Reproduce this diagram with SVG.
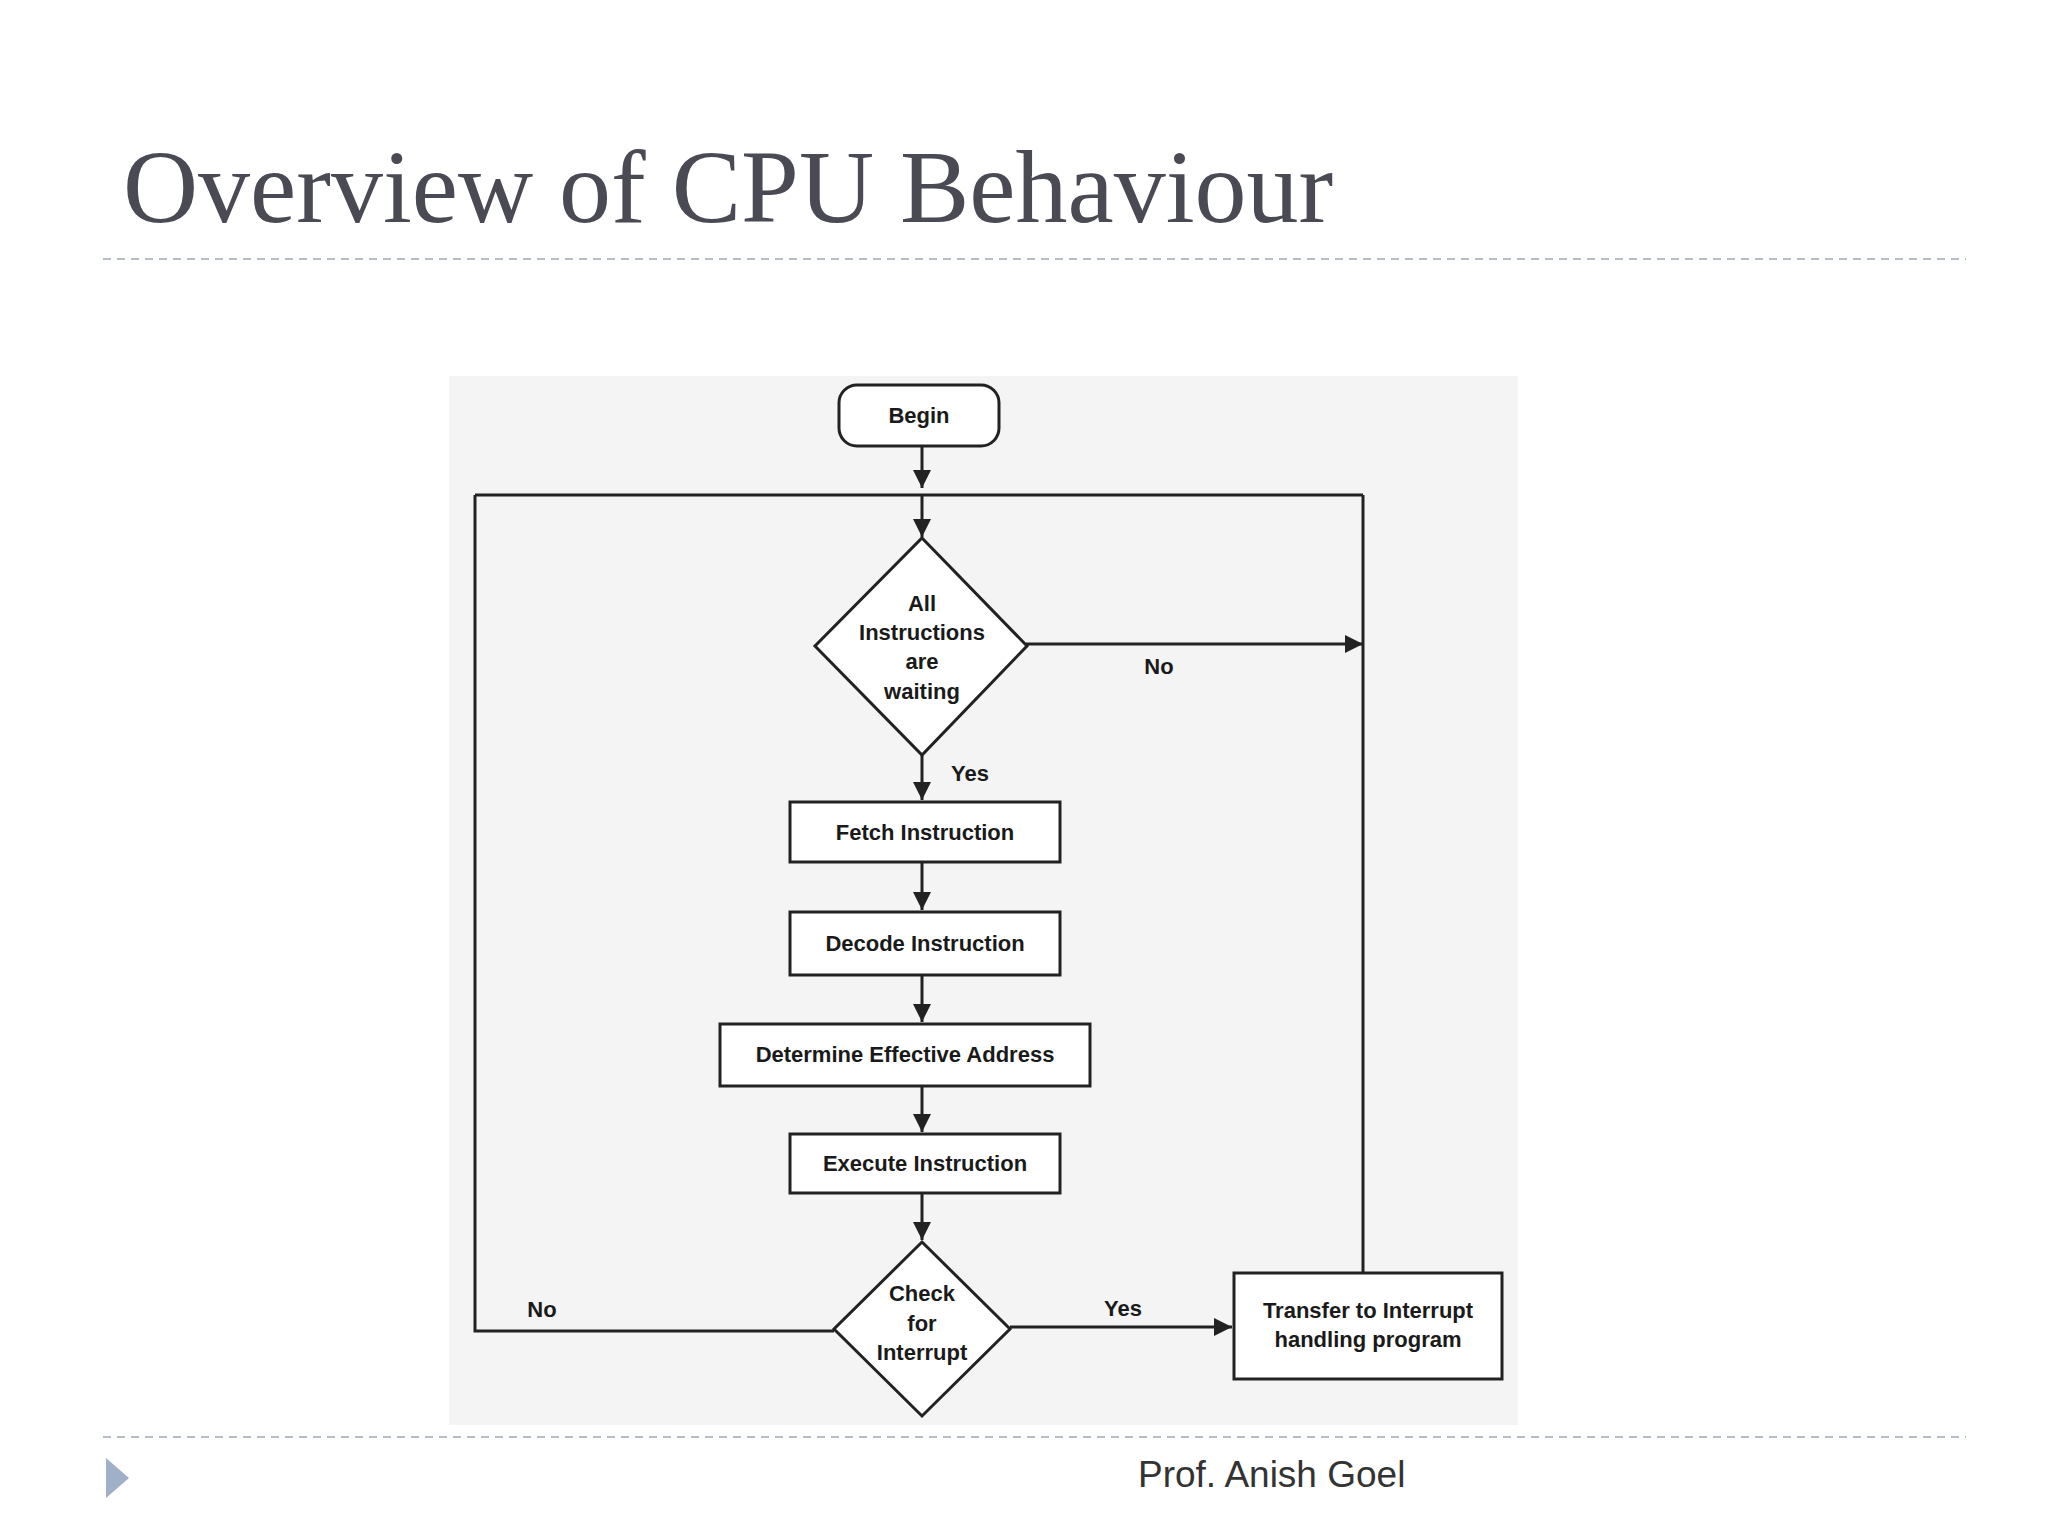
<svg xmlns="http://www.w3.org/2000/svg" width="2048" height="1536" viewBox="0 0 2048 1536">
<style>
.n{fill:#fff;stroke:#222;stroke-width:3}
.t{font-family:"Liberation Sans",Arial,sans-serif;font-weight:bold;font-size:22px;fill:#1a1a1a;text-anchor:middle}
.c{fill:none;stroke:#222;stroke-width:3}
.d{stroke:#b8bec8;stroke-width:2;stroke-dasharray:8 6}
</style>
<defs><marker id="a" viewBox="0 0 10 10" refX="10" refY="5" markerWidth="6" markerHeight="6" orient="auto"><path d="M0,0L10,5L0,10z" fill="#222"/></marker></defs>
<rect width="2048" height="1536" fill="#fff"/>
<text x="123" y="222" font-family="Liberation Serif,serif" font-size="104" fill="#4a4a55">Overview of CPU Behaviour</text>
<line class="d" x1="103" y1="259" x2="1966" y2="259"/>
<line class="d" x1="103" y1="1437" x2="1966" y2="1437"/>
<path d="M106,1458L129,1478L106,1498z" fill="#9fb0c8"/>
<text x="1138" y="1487" font-family="Liberation Sans,sans-serif" font-size="37" fill="#333">Prof. Anish Goel</text>
<rect x="449" y="376" width="1069" height="1049" fill="#f4f4f4"/>
<g id="connectors">
<path class="c" d="M922,446V488" marker-end="url(#a)"/>
<path class="c" d="M475,495H1363" />
<path class="c" d="M922,495V537" marker-end="url(#a)"/>
<path class="c" d="M1026,644H1363" marker-end="url(#a)"/>
<path class="c" d="M1363,1273V495"/>
<path class="c" d="M922,755V800" marker-end="url(#a)"/>
<path class="c" d="M922,862V910" marker-end="url(#a)"/>
<path class="c" d="M922,975V1022" marker-end="url(#a)"/>
<path class="c" d="M922,1086V1132" marker-end="url(#a)"/>
<path class="c" d="M922,1193V1240" marker-end="url(#a)"/>
<path class="c" d="M1010,1327H1232" marker-end="url(#a)"/>
<path class="c" d="M834,1331H475V495"/>
<text class="t" x="1159" y="674">No</text>
<text class="t" x="970" y="781">Yes</text>
<text class="t" x="1123" y="1316">Yes</text>
<text class="t" x="542" y="1317">No</text>
</g>
<g id="begin"><rect class="n" x="839" y="385" width="160" height="61" rx="18"/><text class="t" x="919" y="423">Begin</text></g>
<g id="d1"><path class="n" d="M922,538L1027,646L922,755L815,646z"/>
<text class="t" x="922" y="611">All</text><text class="t" x="922" y="640">Instructions</text><text class="t" x="922" y="669">are</text><text class="t" x="922" y="699">waiting</text></g>
<g id="fetch"><rect class="n" x="790" y="802" width="270" height="60"/><text class="t" x="925" y="840">Fetch Instruction</text></g>
<g id="decode"><rect class="n" x="790" y="912" width="270" height="63"/><text class="t" x="925" y="951">Decode Instruction</text></g>
<g id="determine"><rect class="n" x="720" y="1024" width="370" height="62"/><text class="t" x="905" y="1062">Determine Effective Address</text></g>
<g id="execute"><rect class="n" x="790" y="1134" width="270" height="59"/><text class="t" x="925" y="1171">Execute Instruction</text></g>
<g id="d2"><path class="n" d="M922,1242L1010,1329L922,1416L834,1329z"/>
<text class="t" x="922" y="1301">Check</text><text class="t" x="922" y="1331">for</text><text class="t" x="922" y="1360">Interrupt</text></g>
<g id="transfer"><rect class="n" x="1234" y="1273" width="268" height="106"/><text class="t" x="1368" y="1318">Transfer to Interrupt</text><text class="t" x="1368" y="1347">handling program</text></g>
</svg>
